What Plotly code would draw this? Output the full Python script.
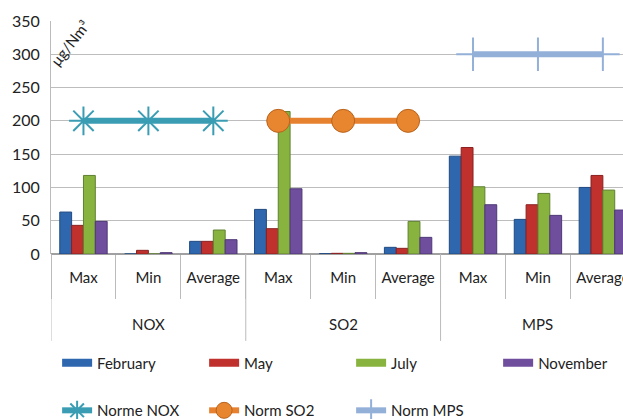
import plotly.graph_objects as go

groups = ["NOX", "SO2", "MPS"]
stats = ["Max", "Min", "Average"]
months = ["February", "May", "July", "November"]

february = [63, 0, 19, 67, 0.5, 10, 147, 52, 100]
may = [43, 5.5, 19, 38, 1, 8.5, 160, 74, 118]
july = [118, 0, 36, 214, 1, 49, 101, 91, 96]
november = [49, 2, 21.5, 98, 2, 25, 74, 58, 66]

norm_nox = [200, 200, 200]
norm_so2 = [200, 200, 200]
norm_mps = [300, 300, 300]

bar_colors = ["#2F67AE", "#C0312E", "#89B33F", "#6F4E9E"]
bar_lines = ["#1F4A80", "#8A2020", "#5F8030", "#4E3775"]
bar_legends = ["legend", "legend", "legend", "legend3"]

n_stats = len(stats)
xpos = list(range(len(groups) * n_stats))
xlabels = [s for _ in groups for s in stats]

def group_x(gi):
    return [gi * n_stats + k for k in range(n_stats)]

fig = go.Figure()
for name, vals, c, lc, lg in zip(months, [february, may, july, november], bar_colors, bar_lines, bar_legends):
    fig.add_trace(go.Bar(x=xpos, y=vals, name=name, marker=dict(color=c, line=dict(color=lc, width=1)),
                         legendgroup=name, showlegend=False))
    # legend entry drawn as a wide bar swatch
    fig.add_trace(go.Scatter(x=[None], y=[None], name=name, mode="lines",
                             line=dict(color=c, width=8), legendgroup=name, legend=lg))

fig.add_trace(go.Scatter(x=group_x(0), y=norm_nox, name="Norme NOX", mode="lines+markers",
                         line=dict(color="#3A9DB3", width=6),
                         marker=dict(symbol="asterisk-open", size=24, line=dict(color="#3A9DB3", width=2)),
                         legend="legend2"))
fig.add_trace(go.Scatter(x=group_x(1), y=norm_so2, name="Norm SO2", mode="lines+markers",
                         line=dict(color="#E6822F", width=6),
                         marker=dict(symbol="circle", size=23, color="#E8862F", line=dict(color="#B8621C", width=1)),
                         legend="legend2"))
fig.add_trace(go.Scatter(x=group_x(2), y=norm_mps, name="Norm MPS", mode="lines+markers",
                         line=dict(color="#93B0D8", width=6),
                         marker=dict(symbol="cross-thin-open", size=24, line=dict(color="#86A3CF", width=2)),
                         legend="legend2"))

font = dict(family="Lato, Open Sans, sans-serif", size=15, color="#222222")
leg_common = dict(orientation="h", xanchor="left", yanchor="middle",
                  entrywidth=102, entrywidthmode="pixels", font=font, bgcolor="rgba(0,0,0,0)")

fig.update_layout(
    width=623, height=419,
    margin=dict(l=51, r=0, t=21, b=165, autoexpand=False),
    paper_bgcolor="white", plot_bgcolor="white",
    font=font,
    barmode="group", bargap=0.27, bargroupgap=0.0,
    xaxis=dict(range=[-0.5, 8.31], showline=False, automargin=False,
               tickmode="array", tickvals=xpos, ticktext=xlabels, ticks="",
               ticklabelstandoff=13, ticklabeloverflow="allow",
               minor=dict(tick0=0.5, dtick=1, ticks="outside", ticklen=44, tickcolor="#BBBBBB", showgrid=False),
               showgrid=False, zeroline=False),
    yaxis=dict(range=[0, 350], dtick=50, showgrid=True, gridcolor="#BDBDBD", gridwidth=1, automargin=False,
               showline=True, linecolor="#BBBBBB", ticks="", ticklabelstandoff=7,
               tickfont=dict(family="Lato, sans-serif", size=16, color="#222222"),
               zeroline=True, zerolinecolor="#A0A0A0"),
    legend=dict(x=0.0107, y=-0.468, **leg_common),
    legend3=dict(x=0.7817, y=-0.468, **leg_common),
    legend2=dict(x=0.0107, y=-0.672, **leg_common),
    showlegend=True,
)

# group dividers and group labels
for gi, g in enumerate(groups):
    left = gi * n_stats - 0.5
    fig.add_shape(type="line", xref="x", yref="paper", x0=left, x1=left, y0=0, y1=-0.373,
                  line=dict(color="#BBBBBB", width=1))
    fig.add_annotation(text=g, xref="x", yref="paper", x=gi * n_stats + (n_stats - 1) / 2, y=-0.30,
                       showarrow=False, yanchor="middle", font=font)

fig.add_annotation(text="μg/Nm³", xref="paper", yref="paper", x=0.033, y=0.905, showarrow=False,
                   xanchor="center", yanchor="middle",
                   textangle=-52, font=dict(family="Lato, sans-serif", size=15, color="#222222"))

fig.write_html("out.html", post_script="document.body.style.margin='0px';",
               config={"displayModeBar": False})
